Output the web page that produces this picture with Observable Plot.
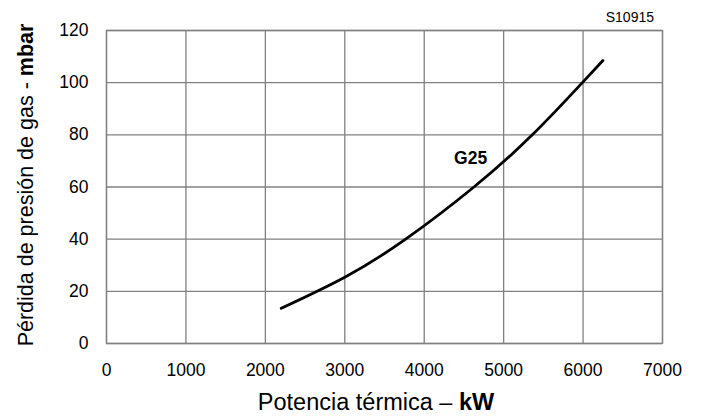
<!DOCTYPE html>
<html>
<head>
<meta charset="utf-8">
<script src="https://cdn.jsdelivr.net/npm/d3@7"></script>
<script src="https://cdn.jsdelivr.net/npm/@observablehq/plot@0.6"></script>
<style>
  html, body { margin: 0; padding: 0; background: #fff; }
  svg { display: block; }
</style>
</head>
<body>
<div id="chart"></div>
<script>
// Data
const powerKW = [2200, 3000, 3766, 4626, 5361, 6000, 6250];
const pressureMbar = [13.5, 25.4, 40, 60, 80, 100.3, 108.5];
const xTicks = [0, 1000, 2000, 3000, 4000, 5000, 6000, 7000];
const yTicks = [0, 20, 40, 60, 80, 100, 120];
const seriesName = "G25";
const labelPos = [4584, 71.1];
const code = "S10915";

const data = powerKW.map((x, i) => ({x, y: pressureMbar[i]}));
const gridColor = "#808080";
const font = "Liberation Sans, Arial, sans-serif";

const svg = Plot.plot({
  width: 702,
  height: 419,
  marginLeft: 106,
  marginRight: 40,
  marginTop: 30,
  marginBottom: 76,
  style: {fontFamily: font, fontSize: "17.5px", color: "#000", background: "#fff"},
  x: {domain: [0, 7000], ticks: xTicks, tickFormat: d => String(d), label: null},
  y: {domain: [0, 120], ticks: yTicks, tickFormat: d => String(d), label: null},
  marks: [
    Plot.gridX(xTicks, {stroke: gridColor, strokeOpacity: 1, strokeWidth: 1.3}),
    Plot.gridY(yTicks, {stroke: gridColor, strokeOpacity: 1, strokeWidth: 1.3}),
    Plot.frame({stroke: gridColor, strokeWidth: 1.3}),
    Plot.axisX(xTicks, {tickSize: 0, tickPadding: 20, fontSize: 17.5, label: null, tickFormat: d => String(d)}),
    Plot.axisY(yTicks, {tickSize: 0, tickPadding: 18, fontSize: 17.5, label: null, tickFormat: d => String(d)}),
    Plot.line(data, {x: "x", y: "y", curve: "natural", stroke: "#000", strokeWidth: 2.8}),
    Plot.text([seriesName], {x: () => labelPos[0], y: () => labelPos[1], text: d => d, fontWeight: "bold", fontSize: 17.5, fill: "#000"})
  ]
});

const s = d3.select(svg);
// y-axis label
const yl = s.append("text")
  .attr("transform", "translate(33,185) rotate(-90)")
  .attr("text-anchor", "middle")
  .attr("font-family", font)
  .attr("font-size", 21.5)
  .attr("fill", "#000");
yl.append("tspan").text("Pérdida de presión de gas - ");
yl.append("tspan").attr("font-weight", "bold").text("mbar");

// x-axis label
const xl = s.append("text")
  .attr("x", 376)
  .attr("y", 410)
  .attr("text-anchor", "middle")
  .attr("font-family", font)
  .attr("font-size", 23.5)
  .attr("fill", "#000");
xl.append("tspan").text("Potencia térmica – ");
xl.append("tspan").attr("font-weight", "bold").text("kW");

// drawing code
s.append("text")
  .attr("x", 654)
  .attr("y", 22)
  .attr("text-anchor", "end")
  .attr("font-family", font)
  .attr("font-size", 14)
  .attr("fill", "#000")
  .text(code);

document.getElementById("chart").appendChild(svg);
</script>
</body>
</html>
